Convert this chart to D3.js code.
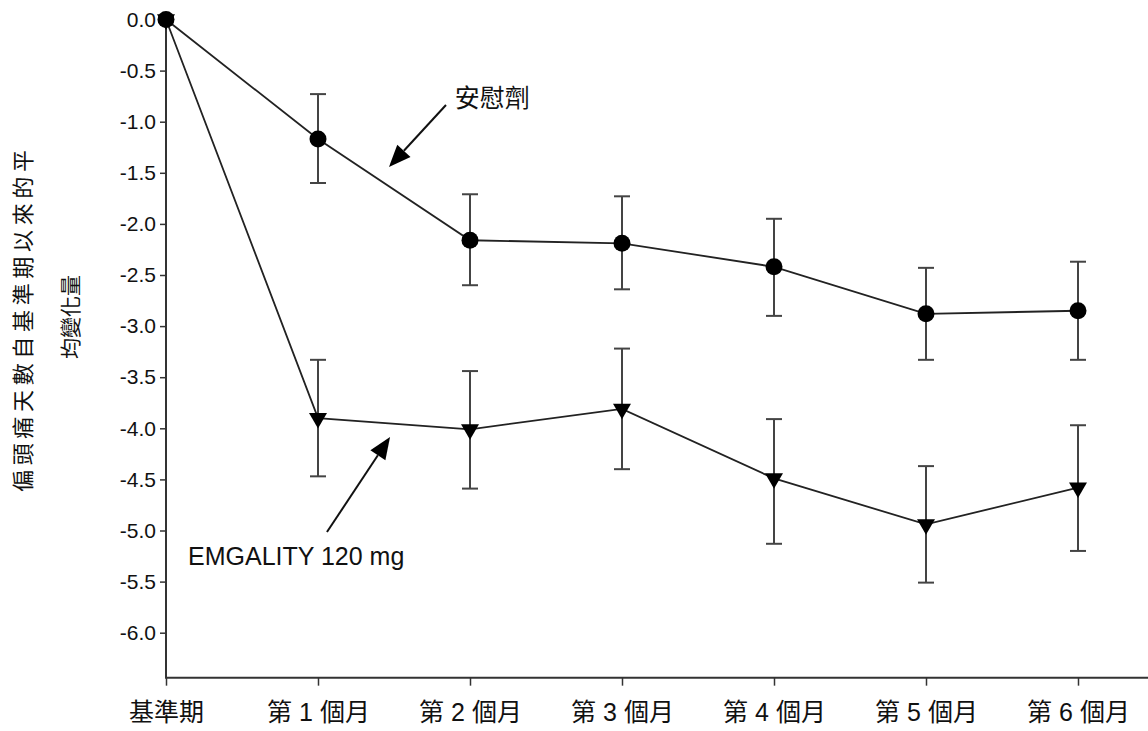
<!DOCTYPE html>
<html>
<head>
<meta charset="utf-8">
<script src="https://cdn.jsdelivr.net/npm/d3@7"></script>
<style>
  html, body { margin: 0; padding: 0; background: #fff; }
  svg { display: block; }
  text { font-family: "Liberation Sans", "Noto Sans CJK TC", sans-serif; fill: #111; }
</style>
</head>
<body>
<svg id="chart" width="1148" height="731"></svg>
<script>
// Visit index (0 = baseline, 1..6 = months) and category labels
const visits = [0, 1, 2, 3, 4, 5, 6];
const visitLabels = ["基準期", "第 1 個月", "第 2 個月", "第 3 個月", "第 4 個月", "第 5 個月", "第 6 個月"];
const yTicks = [0, -0.5, -1, -1.5, -2, -2.5, -3, -3.5, -4, -4.5, -5, -5.5, -6];

// Placebo: mean change and error-bar limits
const placeboMean  = [0, -1.17, -2.16, -2.19, -2.42, -2.88, -2.85];
const placeboUpper = [0, -0.73, -1.71, -1.73, -1.95, -2.43, -2.37];
const placeboLower = [0, -1.60, -2.60, -2.64, -2.90, -3.33, -3.33];

// EMGALITY 120 mg: mean change and error-bar limits
const emgMean  = [0, -3.90, -4.01, -3.81, -4.49, -4.94, -4.58];
const emgUpper = [0, -3.33, -3.44, -3.22, -3.91, -4.37, -3.97];
const emgLower = [0, -4.47, -4.59, -4.40, -5.13, -5.51, -5.20];

const svg = d3.select("#chart");

const x = d3.scaleLinear().domain([0, 6]).range([166, 1078]);
const y = d3.scaleLinear().domain([0, -6]).range([19.5, 632.7]);
const xEnd = 1148;
const yBottom = y(-6.44);
const yTop = y(0.06);

// Axes
const axisColor = "#333";
svg.append("line")
  .attr("x1", x(0)).attr("x2", x(0)).attr("y1", yTop).attr("y2", yBottom)
  .attr("stroke", axisColor).attr("stroke-width", 2);
svg.append("line")
  .attr("x1", x(0) - 1).attr("x2", xEnd).attr("y1", yBottom).attr("y2", yBottom)
  .attr("stroke", axisColor).attr("stroke-width", 2);

const yAxis = d3.axisLeft(y).tickValues(yTicks).tickSize(6).tickPadding(4)
  .tickFormat(d3.format(".1f"));
const gy = svg.append("g").attr("transform", `translate(${x(0)},0)`).call(yAxis);
gy.select(".domain").remove();
gy.selectAll(".tick line").attr("stroke", axisColor).attr("stroke-width", 1.5);
gy.selectAll(".tick text")
  .text(d => d === 0 ? "0.0" : d3.format(".1f")(d).replace("−", "-"))
  .attr("font-size", 21).attr("fill", "#222")
  .style("font-family", "'Liberation Sans', Arial, sans-serif");

const xAxis = d3.axisBottom(x).tickValues(visits).tickSize(8).tickPadding(18)
  .tickFormat(i => visitLabels[i]);
const gx = svg.append("g").attr("transform", `translate(0,${yBottom})`).call(xAxis);
gx.select(".domain").remove();
gx.selectAll(".tick line").attr("stroke", axisColor).attr("stroke-width", 1.5);
gx.selectAll(".tick text").attr("font-size", 25).attr("fill", "#111")
  .style("font-family", "'Liberation Sans', 'Noto Sans CJK TC', sans-serif");

// Y axis title (two lines, rotated)
const title = svg.append("g");
title.append("text")
  .attr("transform", `translate(31,321) rotate(-90)`)
  .attr("text-anchor", "middle")
  .attr("font-size", 22)
  .attr("textLength", 342).attr("lengthAdjust", "spacing")
  .text("偏頭痛天數自基準期以來的平");
title.append("text")
  .attr("transform", `translate(78,317) rotate(-90)`)
  .attr("text-anchor", "middle")
  .attr("font-size", 21)
  .text("均變化量");

// Series drawing helpers
const lineGen = d3.line().x((d, i) => x(visits[i])).y(d => y(d));

function drawErrorBars(upper, lower) {
  const g = svg.append("g").attr("stroke", "#444").attr("stroke-width", 2);
  visits.forEach((v, i) => {
    if (upper[i] === lower[i]) return;
    g.append("line").attr("x1", x(v)).attr("x2", x(v)).attr("y1", y(upper[i])).attr("y2", y(lower[i]));
    [upper[i], lower[i]].forEach(val => {
      g.append("line").attr("x1", x(v) - 8).attr("x2", x(v) + 8).attr("y1", y(val)).attr("y2", y(val));
    });
  });
}

drawErrorBars(placeboUpper, placeboLower);
drawErrorBars(emgUpper, emgLower);

svg.append("path").datum(placeboMean).attr("d", lineGen)
  .attr("fill", "none").attr("stroke", "#222").attr("stroke-width", 1.8);
svg.append("path").datum(emgMean).attr("d", lineGen)
  .attr("fill", "none").attr("stroke", "#222").attr("stroke-width", 1.8);

// EMGALITY markers: downward triangles
const tri = d3.symbol().type(d3.symbolTriangle).size(140);
svg.append("g").selectAll("path").data(emgMean).join("path")
  .attr("d", tri)
  .attr("transform", (d, i) => `translate(${x(visits[i])},${y(d)}) rotate(180)`)
  .attr("fill", "#000");

// Placebo markers: filled circles
svg.append("g").selectAll("circle").data(placeboMean).join("circle")
  .attr("cx", (d, i) => x(visits[i])).attr("cy", d => y(d)).attr("r", 8.5)
  .attr("fill", "#000");

// Annotation arrows with labels
function arrow(from, to) {
  const x1 = x(from[0]), y1 = y(from[1]), x2 = x(to[0]), y2 = y(to[1]);
  const ang = Math.atan2(y2 - y1, x2 - x1);
  const len = 22, half = 9;
  const bx = x2 - len * Math.cos(ang), by = y2 - len * Math.sin(ang);
  svg.append("line").attr("x1", x1).attr("y1", y1).attr("x2", bx).attr("y2", by)
    .attr("stroke", "#111").attr("stroke-width", 2);
  const px = -Math.sin(ang), py = Math.cos(ang);
  svg.append("path")
    .attr("d", `M${x2},${y2}L${bx + half * px},${by + half * py}L${bx - half * px},${by - half * py}Z`)
    .attr("fill", "#000");
}

arrow([1.842, -0.837], [1.467, -1.443]);
svg.append("text").attr("x", x(1.90)).attr("y", y(-0.86))
  .attr("font-size", 25).text("安慰劑");

arrow([1.059, -5.015], [1.474, -4.085]);
svg.append("text").attr("x", x(0.145)).attr("y", y(-5.34))
  .attr("font-size", 25).text("EMGALITY 120 mg");
</script>
</body>
</html>
